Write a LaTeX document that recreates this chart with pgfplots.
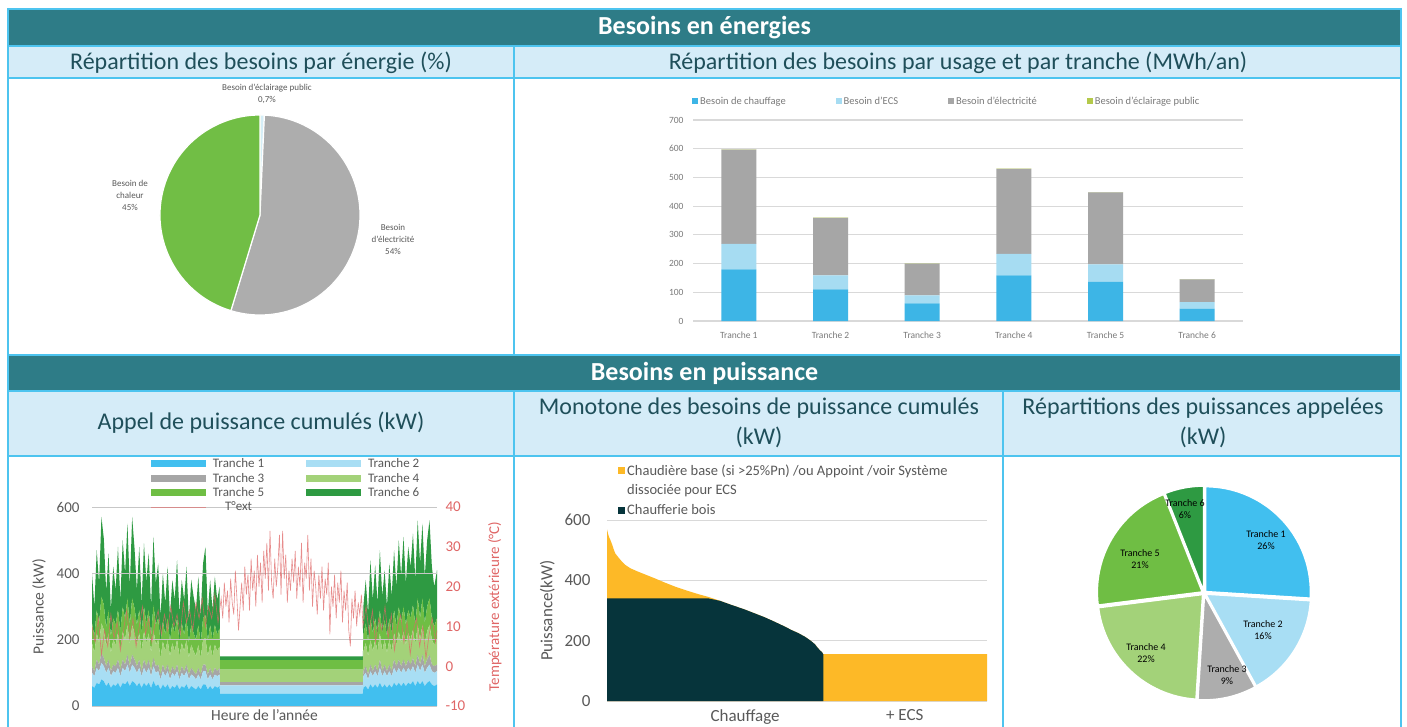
\documentclass[border=0pt]{standalone}
\usepackage{fontspec}
\setmainfont{Carlito}
\usepackage{pgfplots}
\pgfplotsset{compat=1.18}
\usepackage{pgfplotstable}
\definecolor{hdr}{HTML}{2E7C87}
\definecolor{sub}{HTML}{D5ECF8}
\definecolor{bord}{HTML}{4DC4EF}
\definecolor{subtxt}{HTML}{1F4F5A}
\definecolor{lbl}{HTML}{595959}
\definecolor{gridc}{HTML}{D9D9D9}
\definecolor{cA}{HTML}{41BFEF}
\definecolor{cB}{HTML}{A8DEF4}
\definecolor{cC}{HTML}{A6A6A6}
\definecolor{cD}{HTML}{A3D279}
\definecolor{cE}{HTML}{6FBE44}
\definecolor{cF}{HTML}{2E9A42}
\definecolor{tempc}{HTML}{E06666}
\definecolor{chauf}{HTML}{3DB5E6}
\definecolor{ecs}{HTML}{A6DCF2}
\definecolor{elec}{HTML}{A6A6A6}
\definecolor{eclp}{HTML}{B4C94A}
\definecolor{jaune}{HTML}{FDB927}
\definecolor{bois}{HTML}{06343B}
\definecolor{pEcl}{HTML}{D5EEF7}
\definecolor{pElec}{HTML}{ADADAD}
\definecolor{pChal}{HTML}{71BE45}

\pgfplotstableread{
h t1 t2 t3 t4 t5 t6
0 60 40 20 70 60 150
60 55 35 15 55 50 90
120 70 45 25 80 70 180
180 65 40 20 65 60 120
240 80 50 30 90 80 240
300 75 45 25 85 75 200
360 60 40 20 60 55 110
420 70 45 25 80 70 170
480 55 35 15 55 50 80
540 65 40 20 75 65 155
600 60 40 20 65 60 105
660 70 45 25 80 70 190
720 55 35 20 60 55 95
780 70 45 25 85 75 200
840 65 40 20 75 65 135
900 75 50 30 90 80 225
960 60 40 20 65 60 115
1020 75 50 30 90 80 245
1080 70 45 25 80 75 180
1140 60 40 20 65 60 105
1200 70 45 25 80 70 190
1260 55 35 15 60 55 90
1320 70 45 25 85 75 190
1380 60 40 20 70 60 125
1440 70 45 25 80 70 170
1500 55 35 15 55 50 90
1560 75 45 25 85 75 205
1620 60 40 20 65 60 125
1680 65 40 20 75 65 165
1740 50 30 15 50 45 80
1800 65 40 20 70 60 145
1860 55 35 15 60 50 95
1920 65 40 20 75 65 155
1980 50 30 15 55 45 75
2040 60 40 20 70 60 130
2100 55 35 15 60 55 100
2160 65 40 20 75 65 175
2220 50 30 15 55 45 85
2280 60 40 20 70 60 130
2340 55 35 15 60 50 105
2400 65 40 20 75 65 155
2460 50 30 15 50 45 70
2520 60 35 20 70 60 135
2580 55 35 15 60 55 110
2640 50 30 15 55 50 90
2700 60 35 20 70 60 145
2760 50 30 15 50 45 80
2820 65 40 20 75 65 165
2880 65 40 20 80 70 205
2940 50 30 15 55 45 85
3000 60 35 20 70 60 135
3060 50 30 15 55 50 90
3120 60 35 20 70 60 145
3180 55 35 15 60 50 105
3240 60 35 20 65 55 125
3250 37 25 10 38 28 12
6880 37 25 10 38 28 12
6890 55 35 15 60 50 85
6950 60 40 20 70 60 130
7010 50 30 15 55 45 85
7070 65 40 20 75 65 175
7130 55 35 15 60 55 100
7190 65 40 20 75 65 160
7250 55 35 15 60 50 95
7310 70 45 25 80 70 180
7370 55 35 15 60 55 110
7430 65 40 20 75 60 150
7490 55 35 15 55 50 90
7550 65 40 20 75 65 165
7610 55 35 15 60 55 110
7670 70 45 25 80 70 180
7730 60 40 20 65 55 120
7790 70 45 25 85 75 200
7850 60 40 20 70 60 140
7910 70 45 25 85 75 210
7970 60 40 20 65 60 125
8030 70 45 25 80 70 190
8090 65 40 20 75 65 155
8150 75 45 25 85 75 215
8210 60 40 20 65 60 135
8270 75 50 30 90 80 235
8330 65 40 20 75 65 165
8390 75 50 30 90 80 225
8450 60 40 20 70 60 140
8510 70 45 25 85 75 200
8570 75 50 30 90 80 235
8630 65 40 20 75 65 155
8690 60 40 20 65 55 120
8760 65 40 20 75 65 145
}\appel

\begin{document}
\begin{tikzpicture}[x=1pt,y=1pt]
\useasboundingbox (0,0) rectangle (1407,-727);
\fill[white] (0,0) rectangle (1407,-727);
% table structure
\fill[hdr] (8,-9) rectangle (1401,-46);
\fill[sub] (8,-46) rectangle (1401,-78.5);
\fill[hdr] (8,-355) rectangle (1401,-391);
\fill[sub] (8,-391) rectangle (1401,-455.5);
\begin{scope}[draw=bord, line width=2pt]
\draw (7,-9) -- (1402,-9);
\draw (7,-46) -- (1402,-46);
\draw (7,-78.5) -- (1402,-78.5);
\draw (7,-355) -- (1402,-355);
\draw (7,-391) -- (1402,-391);
\draw (7,-455.5) -- (1402,-455.5);
\draw (8,-8) -- (8,-727);
\draw (1401,-8) -- (1401,-727);
\draw (514,-46) -- (514,-355);
\draw (514,-391) -- (514,-727);
\draw (1003,-391) -- (1003,-727);
\end{scope}
\node[text=white, font=\bfseries\fontsize{26}{30}\selectfont] at (704.5,-28) {Besoins en énergies};
\node[text=white, font=\bfseries\fontsize{26}{30}\selectfont] at (704.5,-373.5) {Besoins en puissance};
\begin{scope}[every node/.style={text=subtxt, font=\fontsize{24}{29.5}\selectfont, align=center}]
\node at (261,-62.5) {Répartition des besoins par énergie (\%)};
\node at (958,-62.5) {Répartition des besoins par usage et par tranche (MWh/an)};
\node at (261,-423) {Appel de puissance cumulés (kW)};
\node at (759,-423) {Monotone des besoins de puissance cumulés\\(kW)};
\node at (1203,-423) {Répartitions des puissances appelées\\(kW)};
\end{scope}

% ---------- Pie 1 : besoins par energie ----------
\pgfmathsetmacro\pa{90-3.6*0.7}
\pgfmathsetmacro\pb{\pa-3.6*54}
\begin{axis}[at={(260pt,-215pt)}, anchor=center, hide axis, scale only axis,
  width=200pt, height=200pt, xmin=-1, xmax=1, ymin=-1, ymax=1, clip=false]
\addplot[draw=none] coordinates {(0,0)};
\fill[pEcl, draw=white, line width=1.2pt] (axis cs:0,0) -- ++(90:100pt) arc[start angle=90, end angle=\pa, radius=100pt] -- cycle;
\fill[pElec, draw=white, line width=1.2pt] (axis cs:0,0) -- ++(\pa:100pt) arc[start angle=\pa, end angle=\pb, radius=100pt] -- cycle;
\fill[pChal, draw=white, line width=1.2pt] (axis cs:0,0) -- ++(\pb:100pt) arc[start angle=\pb, end angle=-270, radius=100pt] -- cycle;
\end{axis}
\begin{scope}[every node/.style={text=lbl, font=\fontsize{9}{12}\selectfont, align=center}]
\node at (267,-93.5) {Besoin d’éclairage public\\0,7\%};
\node at (130,-195) {Besoin de\\chaleur\\45\%};
\node at (393,-239) {Besoin\\d’électricité\\54\%};
\end{scope}

% ---------- Bar chart : besoins par usage ----------
\begin{axis}[at={(693pt,-321pt)}, anchor=south west, scale only axis,
  width=550pt, height=201pt, ymin=0, ymax=700, ytick={0,100,...,700},
  xmin=-0.5, xmax=5.5, xtick={0,...,5},
  xticklabels={Tranche 1,Tranche 2,Tranche 3,Tranche 4,Tranche 5,Tranche 6},
  ybar stacked, bar width=35pt,
  axis line style={draw=none}, major tick length=0pt,
  ymajorgrids, grid style={gridc, line width=1.2pt},
  ticklabel style={font=\fontsize{9.5}{10}\selectfont, text=lbl!80},
  yticklabel style={xshift=-6pt},
  xticklabel style={yshift=-7pt},
  /pgf/number format/assume math mode=true,
  legend style={at={(0,1)}, anchor=south west, xshift=-4pt, yshift=10pt, draw=none, fill=none,
    font=\fontsize{10.5}{11}\selectfont, text=lbl!80, legend columns=4,
    /tikz/every even column/.append style={column sep=48pt}},
  legend image code/.code={\fill[#1] (0pt,-3pt) rectangle (6pt,3pt);}]
\addplot[fill=chauf, draw=none] coordinates {(0,180) (1,110) (2,61) (3,159) (4,136) (5,43)};
\addplot[fill=ecs, draw=none] coordinates {(0,89) (1,49) (2,28) (3,75) (4,61) (5,23)};
\addplot[fill=elec, draw=none] coordinates {(0,328) (1,200) (2,111) (3,296) (4,251) (5,79)};
\addplot[fill=eclp, draw=none] coordinates {(0,1) (1,1) (2,1) (3,1) (4,1) (5,1)};
\legend{Besoin de chauffage, Besoin d’ECS, Besoin d’électricité, Besoin d’éclairage public}
\end{axis}

% ---------- Appel de puissance ----------
\begin{axis}[at={(92pt,-706pt)}, anchor=south west, scale only axis,
  width=345pt, height=199pt, xmin=0, xmax=8760, ymin=0, ymax=600,
  ytick={0,200,400,600}, xtick=\empty, stack plots=y, area style,
  axis on top, axis line style={draw=none}, major tick length=0pt,
  ymajorgrids, grid style={gridc!80!gray, line width=0.8pt},
  ylabel={Puissance (kW)}, xlabel={Heure de l’année},
  label style={font=\fontsize{15.5}{17}\selectfont, text=lbl},
  ylabel shift=4pt,
  ticklabel style={font=\fontsize{15}{17}\selectfont, text=lbl},
  yticklabel style={xshift=-9pt},
  /pgf/number format/assume math mode=true,
  legend style={at={(0.168,1.255)}, anchor=north west, draw=none, fill=none,
    font=\fontsize{13}{14}\selectfont, text=lbl, legend columns=2,
    inner sep=0pt, row sep=0pt,
    /tikz/every odd column/.append style={column sep=5pt},
    /tikz/every even column/.append style={column sep=40pt}},
  legend image code/.code={\fill[#1] (0pt,-3.5pt) rectangle (55pt,3.5pt);}]
\addplot[fill=cA, draw=none] table[x=h, y=t1] {\appel} \closedcycle;
\addplot[fill=cB, draw=none] table[x=h, y=t2] {\appel} \closedcycle;
\addplot[fill=cC, draw=none] table[x=h, y=t3] {\appel} \closedcycle;
\addplot[fill=cD, draw=none] table[x=h, y=t4] {\appel} \closedcycle;
\addplot[fill=cE, draw=none] table[x=h, y=t5] {\appel} \closedcycle;
\addplot[fill=cF, draw=none] table[x=h, y=t6] {\appel} \closedcycle;
\addlegendimage{legend image code/.code={\draw[draw=tempc, opacity=0.6, line width=0.8pt] (0pt,0pt) -- (55pt,0pt);}}
\legend{Tranche 1, Tranche 2, Tranche 3, Tranche 4, Tranche 5, Tranche 6, T°ext}
\end{axis}
\begin{axis}[at={(92pt,-706pt)}, anchor=south west, scale only axis,
  width=345pt, height=199pt, xmin=0, xmax=8760, ymin=-10, ymax=40,
  ytick={-10,0,...,40}, axis x line=none, axis y line*=right,
  axis line style={draw=none}, major tick length=0pt,
  ylabel={Température extérieure (°C)},
  label style={font=\fontsize{15}{17}\selectfont, text=tempc},
  ylabel shift=16pt,
  ticklabel style={font=\fontsize{15}{17}\selectfont, text=tempc},
  yticklabel style={xshift=5pt},
  /pgf/number format/assume math mode=true]
\addplot[tempc, line width=0.6pt, opacity=0.75] coordinates {
(0,10) (80,6) (160,12) (240,3) (320,9) (400,5) (480,13) (560,7) (640,11) (720,4)
(800,9) (880,14) (960,7) (1040,12) (1120,5) (1200,10) (1280,15) (1360,8) (1440,12) (1520,6)
(1600,11) (1680,14) (1760,8) (1840,13) (1920,9) (2000,15) (2080,10) (2160,13) (2240,8) (2320,16)
(2400,11) (2480,14) (2560,9) (2640,16) (2720,12) (2800,17) (2880,10) (2960,15) (3040,12) (3120,18)
(3200,11)
(3280,17) (3320,12) (3360,21) (3400,15) (3440,19) (3480,11) (3520,22) (3560,16) (3600,13) (3640,24)
(3680,17) (3720,9) (3760,15) (3800,21) (3840,14) (3880,25) (3920,18) (3960,23) (4000,14) (4040,27)
(4080,19) (4120,24) (4160,15) (4200,28) (4240,20) (4280,26) (4320,16) (4360,29) (4400,22) (4440,31)
(4480,19) (4520,34) (4560,21) (4600,17) (4640,27) (4680,20) (4720,25) (4760,33) (4800,18) (4840,34)
(4880,22) (4920,28) (4960,16) (5000,24) (5040,19) (5080,27) (5120,21) (5160,29) (5200,17) (5240,25)
(5280,20) (5320,31) (5360,16) (5400,26) (5440,22) (5480,33) (5520,19) (5560,27) (5600,15) (5640,24)
(5680,20) (5720,13) (5760,23) (5800,17) (5840,25) (5880,14) (5920,22) (5960,18) (6000,26) (6040,8)
(6080,20) (6120,15) (6160,23) (6200,12) (6240,21) (6280,16) (6320,24) (6360,11) (6400,19) (6440,14)
(6480,21) (6520,9) (6560,5) (6600,17) (6640,12) (6680,19) (6720,10) (6760,16) (6800,13) (6840,18)
(6880,10) (6960,15) (7040,8)
(7120,14) (7200,6) (7280,12) (7360,9) (7440,15) (7520,7) (7600,13) (7680,4) (7760,10) (7840,13)
(7920,6) (8000,11) (8080,3) (8160,9) (8240,12) (8320,5) (8400,10) (8480,2) (8560,8) (8640,12)
(8720,6) (8760,9)};
\end{axis}

% ---------- Monotone ----------
\begin{axis}[at={(607pt,-701pt)}, anchor=south west, scale only axis,
  width=380pt, height=181pt, xmin=0, xmax=1142, ymin=0, ymax=600,
  ytick={0,200,400,600}, xtick={415,895}, xticklabels={Chauffage,+ ECS},
  axis line style={draw=none}, major tick length=0pt,
  ymajorgrids, grid style={gridc, line width=1pt},
  ylabel={Puissance(kW)},
  label style={font=\fontsize{17}{19}\selectfont, text=lbl},
  ylabel shift=3pt,
  ticklabel style={font=\fontsize{17}{19}\selectfont, text=lbl},
  yticklabel style={xshift=-13pt},
  xticklabel style={yshift=-5pt},
  /pgf/number format/assume math mode=true,
  legend style={at={(0.029,1.318)}, anchor=north west, draw=none, fill=none,
    font=\fontsize{14.5}{16}\selectfont, text=lbl, legend cell align=left,
    inner sep=0pt, row sep=4pt},
  legend image code/.code={\fill[#1] (0pt,-3.5pt) rectangle (7pt,3.5pt);}]
\addplot[fill=jaune, draw=none] coordinates {
(0,569) (3,555) (6,544) (10,534) (15,520) (20,503) (25,489) (35,475) (45,462) (55,451)
(70,440) (95,428) (120,417) (145,406) (175,392) (205,379) (240,366) (275,354) (305,345)
(340,332) (375,318) (410,305) (445,290) (475,277) (505,262) (530,249) (555,235) (575,225)
(595,213) (612,200) (625,188) (632,178) (640,168) (646,162) (650,155) (1142,155)} \closedcycle;
\addlegendentry{Chaudière base (si >25\%Pn) /ou Appoint /voir Système}
\addlegendimage{legend image code/.code={}}
\addlegendentry{dissociée pour ECS}
\addplot[fill=bois, draw=none] coordinates {
(0,340) (305,340) (340,332) (375,318) (410,305) (445,290) (475,277) (505,262) (530,249)
(555,235) (575,225) (595,213) (612,200) (625,188) (632,178) (640,168) (646,162) (650,155)} \closedcycle;
\addlegendentry{Chaufferie bois}
\end{axis}

% ---------- Pie 2 : repartition des puissances ----------
\pgfmathsetmacro\qa{90-3.6*26}
\pgfmathsetmacro\qb{\qa-3.6*16}
\pgfmathsetmacro\qc{\qb-3.6*9}
\pgfmathsetmacro\qd{\qc-3.6*22}
\pgfmathsetmacro\qe{\qd-3.6*21}
\begin{axis}[at={(1204pt,-593pt)}, anchor=center, hide axis, scale only axis,
  width=210pt, height=210pt, xmin=-1, xmax=1, ymin=-1, ymax=1, clip=false]
\addplot[draw=none] coordinates {(0,0)};
\begin{scope}[draw=white, line width=1.6pt]
\filldraw[fill=cA, shift={({(90+\qa)/2}:2pt)}] (axis cs:0,0) -- ++(90:105pt) arc[start angle=90, end angle=\qa, radius=105pt] -- cycle;
\filldraw[fill=cB, shift={({(\qa+\qb)/2}:2pt)}] (axis cs:0,0) -- ++(\qa:105pt) arc[start angle=\qa, end angle=\qb, radius=105pt] -- cycle;
\filldraw[fill=pElec, shift={({(\qb+\qc)/2}:2pt)}] (axis cs:0,0) -- ++(\qb:105pt) arc[start angle=\qb, end angle=\qc, radius=105pt] -- cycle;
\filldraw[fill=cD, shift={({(\qc+\qd)/2}:2pt)}] (axis cs:0,0) -- ++(\qc:105pt) arc[start angle=\qc, end angle=\qd, radius=105pt] -- cycle;
\filldraw[fill=cE, shift={({(\qd+\qe)/2}:2pt)}] (axis cs:0,0) -- ++(\qd:105pt) arc[start angle=\qd, end angle=\qe, radius=105pt] -- cycle;
\filldraw[fill=cF, shift={({(\qe-270)/2}:2pt)}] (axis cs:0,0) -- ++(\qe:105pt) arc[start angle=\qe, end angle=-270, radius=105pt] -- cycle;
\end{scope}
\end{axis}
\begin{scope}[every node/.style={text=black, font=\fontsize{10}{12.5}\selectfont, align=center}]
\node at (1266,-540) {Tranche 1\\26\%};
\node at (1263,-630) {Tranche 2\\16\%};
\node at (1227,-675) {Tranche 3\\9\%};
\node at (1146,-653) {Tranche 4\\22\%};
\node at (1140,-559) {Tranche 5\\21\%};
\node at (1185,-509) {Tranche 6\\6\%};
\end{scope}
\end{tikzpicture}
\end{document}
